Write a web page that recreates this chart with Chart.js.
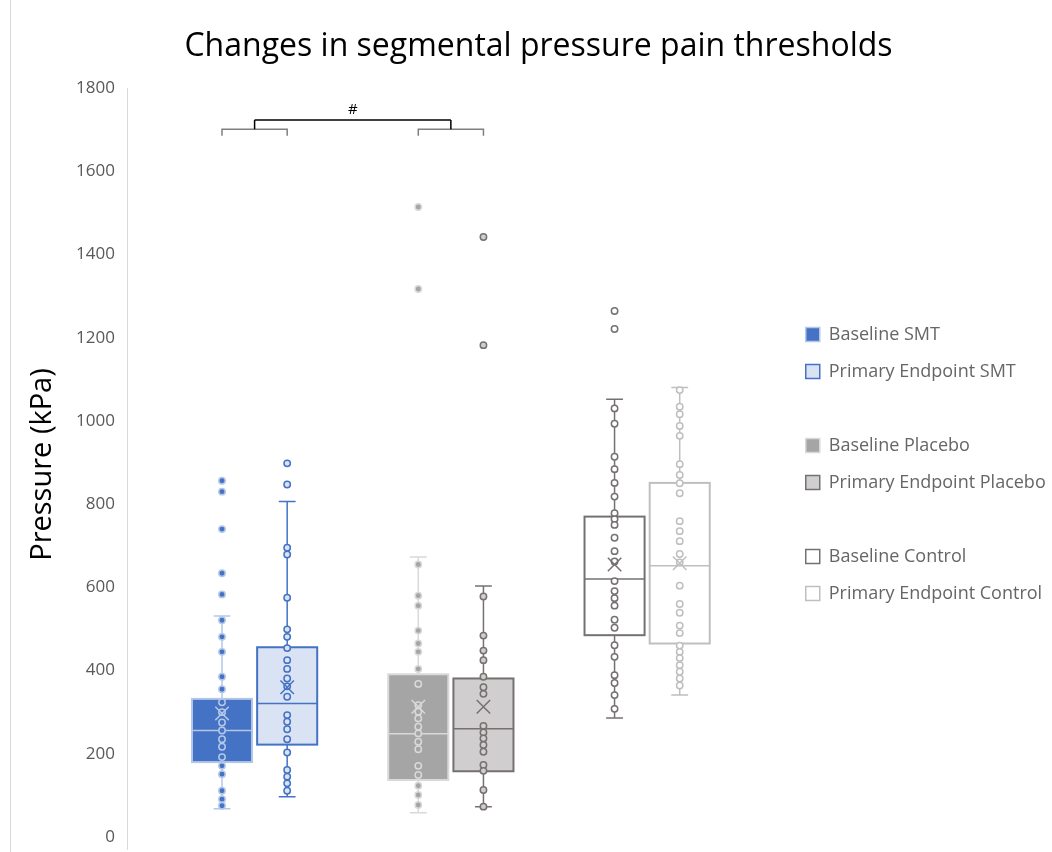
<!DOCTYPE html>
<html><head><meta charset="utf-8">
<script src="https://cdn.jsdelivr.net/npm/chart.js@4.4.1/dist/chart.umd.min.js"></script>
<style>html,body{margin:0;padding:0;background:#fff;}#wrap{width:1052px;height:852px;}</style>
</head><body><div id="wrap"><canvas id="c" width="1052" height="852"></canvas></div>
<script>
// ---- data ----
const groups = ['SMT', 'Placebo', 'Control'];
const seriesNames = ['Baseline SMT', 'Primary Endpoint SMT', 'Baseline Placebo', 'Primary Endpoint Placebo', 'Baseline Control', 'Primary Endpoint Control'];
const yTickValues = [0, 200, 400, 600, 800, 1000, 1200, 1400, 1600, 1800];

const smtBaseline = [856, 830, 740, 634, 583, 521, 481, 445, 385, 355, 324, 300, 275, 256, 235, 217, 192, 171, 151, 111, 91, 75];
const smtEndpoint = [898, 847, 695, 679, 575, 499, 481, 454, 425, 404, 381, 362, 337, 293, 277, 259, 235, 203, 161, 145, 129, 111];
const placeboBaseline = [1514, 1317, 655, 580, 556, 496, 465, 445, 404, 368, 317, 301, 285, 265, 249, 229, 211, 171, 149, 123, 101, 77];
const placeboEndpoint = [1442, 1182, 578, 484, 448, 425, 385, 360, 344, 267, 251, 237, 221, 205, 173, 159, 113, 73];
const controlBaseline = [1264, 1221, 1030, 993, 914, 884, 851, 818, 778, 764, 750, 719, 687, 662, 615, 591, 574, 556, 522, 503, 461, 433, 389, 370, 341, 308];
const controlEndpoint = [1074, 1034, 1016, 988, 964, 896, 870, 850, 826, 759, 735, 711, 680, 660, 604, 560, 539, 508, 490, 460, 445, 430, 413, 397, 381, 364];

const q1Values = [180, 222, 137, 158, 485, 465];
const medianValues = [256, 321, 248, 260, 620, 652];
const q3Values = [332, 456, 391, 381, 770, 851];
const whiskerLowValues = [68, 97, 58, 73, 286, 341];
const whiskerHighValues = [531, 806, 673, 603, 1052, 1080];
const meanValues = [297, 360, 313, 313, 655, 658];
const significanceLabel = '#';

// ---- styling ----
const allPoints = [smtBaseline, smtEndpoint, placeboBaseline, placeboEndpoint, controlBaseline, controlEndpoint];
const fills = ['#4472C4', '#DAE3F3', '#A5A5A5', '#D0CECE', '#FFFFFF', '#FFFFFF'];
const strokes = ['#B4C7E7', '#4472C4', '#D9D9D9', '#767171', '#767171', '#BFBFBF'];
const FONT = "'Open Sans', 'Noto Sans', sans-serif";
const OFFSET = 0.166, HALF = 0.153;
const xPos = i => Math.floor(i / 2) + 1 + (i % 2 ? OFFSET : -OFFSET);

const datasets = [];
allPoints.forEach((vals, i) => {
  datasets.push({
    label: seriesNames[i], data: vals.map(v => ({x: xPos(i), y: v})),
    pointRadius: 3.2, pointHoverRadius: 3.2, borderWidth: 1.5,
    backgroundColor: fills[i], borderColor: strokes[i], showLine: false, order: 2
  });
});
meanValues.forEach((m, i) => {
  datasets.push({
    label: seriesNames[i] + ' mean', data: [{x: xPos(i), y: m}],
    pointStyle: 'crossRot', pointRadius: 9.5, pointHoverRadius: 9.5, borderWidth: 1.5,
    borderColor: strokes[i], backgroundColor: strokes[i], showLine: false, order: 1
  });
});

const boxPlugin = {
  id: 'boxes',
  beforeDraw(chart) {
    const ctx = chart.ctx, ca = chart.chartArea;
    ctx.save();
    ctx.fillStyle = '#fff'; ctx.fillRect(0, 0, chart.width, chart.height);
    ctx.strokeStyle = '#D9D9D9'; ctx.lineWidth = 1;
    ctx.beginPath(); ctx.moveTo(10.5, 0); ctx.lineTo(10.5, chart.height); ctx.stroke();
    // value axis line, running to the bottom edge as in the reference
    ctx.beginPath(); ctx.moveTo(Math.round(ca.left) - 0.5, ca.top); ctx.lineTo(Math.round(ca.left) - 0.5, chart.height - 2); ctx.stroke();
    ctx.restore();
  },
  beforeDatasetsDraw(chart) {
    const ctx = chart.ctx, xs = chart.scales.x, ys = chart.scales.y;
    ctx.save();
    for (let i = 0; i < 6; i++) {
      const cx = xs.getPixelForValue(xPos(i));
      const hw = xs.getPixelForValue(xPos(i) + HALF) - cx;
      const capW = hw * 0.28;
      const yq1 = ys.getPixelForValue(q1Values[i]), yq3 = ys.getPixelForValue(q3Values[i]);
      const ymed = ys.getPixelForValue(medianValues[i]);
      const ylo = ys.getPixelForValue(whiskerLowValues[i]), yhi = ys.getPixelForValue(whiskerHighValues[i]);
      ctx.strokeStyle = strokes[i]; ctx.lineWidth = 1.5;
      ctx.beginPath();
      ctx.moveTo(cx, yq3); ctx.lineTo(cx, yhi);
      ctx.moveTo(cx - capW, yhi); ctx.lineTo(cx + capW, yhi);
      ctx.moveTo(cx, yq1); ctx.lineTo(cx, ylo);
      ctx.moveTo(cx - capW, ylo); ctx.lineTo(cx + capW, ylo);
      ctx.stroke();
      ctx.fillStyle = fills[i];
      ctx.fillRect(cx - hw, yq3, 2 * hw, yq1 - yq3);
      ctx.lineWidth = 2;
      ctx.strokeRect(cx - hw, yq3, 2 * hw, yq1 - yq3);
      ctx.lineWidth = 1.5;
      ctx.beginPath(); ctx.moveTo(cx - hw, ymed); ctx.lineTo(cx + hw, ymed); ctx.stroke();
    }
    ctx.restore();
  },
  afterDatasetsDraw(chart) {
    const ctx = chart.ctx, xs = chart.scales.x, ys = chart.scales.y;
    ctx.save();
    ctx.lineWidth = 1.5;
    const yb = ys.getPixelForValue(1701), yt = ys.getPixelForValue(1685), ytop = ys.getPixelForValue(1723);
    const centers = [];
    [0, 2].forEach(a => {
      const xa = xs.getPixelForValue(xPos(a)), xb = xs.getPixelForValue(xPos(a + 1));
      ctx.strokeStyle = '#7F7F7F';
      ctx.beginPath();
      ctx.moveTo(xa, yt); ctx.lineTo(xa, yb); ctx.lineTo(xb, yb); ctx.lineTo(xb, yt);
      ctx.stroke();
      const xc = (xa + xb) / 2; centers.push(xc);
      ctx.strokeStyle = '#000';
      ctx.beginPath(); ctx.moveTo(xc, yb); ctx.lineTo(xc, ytop); ctx.stroke();
    });
    ctx.strokeStyle = '#000';
    ctx.beginPath(); ctx.moveTo(centers[0], ytop); ctx.lineTo(centers[1], ytop); ctx.stroke();
    ctx.fillStyle = '#000'; ctx.font = '15px ' + FONT; ctx.textAlign = 'center'; ctx.textBaseline = 'middle';
    ctx.fillText(significanceLabel, (centers[0] + centers[1]) / 2, ys.getPixelForValue(1747));
    ctx.restore();
  }
};

new Chart(document.getElementById('c'), {
  type: 'scatter',
  data: {datasets},
  options: {
    responsive: false, animation: false, devicePixelRatio: 1,
    layout: {padding: {left: 28, right: 3, top: 0, bottom: 0}},
    plugins: {
      tooltip: {enabled: false},
      title: {display: true, text: 'Changes in segmental pressure pain thresholds', color: '#000',
        font: {family: FONT, size: 32, weight: 'normal'}, padding: {top: 28, bottom: 21.6}},
      legend: {
        position: 'right', onClick: null,
        title: {display: true, text: ' ', font: {size: 10, lineHeight: 1}, padding: {top: 0, bottom: 73}},
        labels: {
          font: {family: FONT, size: 18, lineHeight: 25 / 18}, color: '#595959', boxWidth: 14, boxHeight: 14, padding: 12,
          generateLabels() {
            const items = [];
            seriesNames.forEach((n, i) => {
              items.push({text: [n], fillStyle: fills[i], strokeStyle: strokes[i], lineWidth: 1.5, hidden: false, datasetIndex: i});
              if (i % 2 === 1 && i < 5) items.push({text: [' '], fillStyle: 'rgba(0,0,0,0)', strokeStyle: 'rgba(0,0,0,0)', lineWidth: 0, hidden: false});
            });
            return items;
          }
        }
      }
    },
    scales: {
      x: {type: 'linear', min: 0.355, max: 3.747, display: false},
      y: {
        min: -9.6, max: 1800,
        afterBuildTicks(s) { s.ticks = yTickValues.map(v => ({value: v})); },
        afterFit(s) { s.width = 100; s.paddingTop = 0; s.paddingBottom = 0; },
        grid: {display: false, drawTicks: false},
        border: {display: false},
        ticks: {color: '#595959', font: {family: FONT, size: 17, lineHeight: 0.1}, padding: 13, callback: v => String(v)},
        title: {display: true, text: 'Pressure (kPa)', color: '#000', font: {family: FONT, size: 29, lineHeight: 1}, padding: 0}
      }
    }
  },
  plugins: [boxPlugin]
});
</script></body></html>
